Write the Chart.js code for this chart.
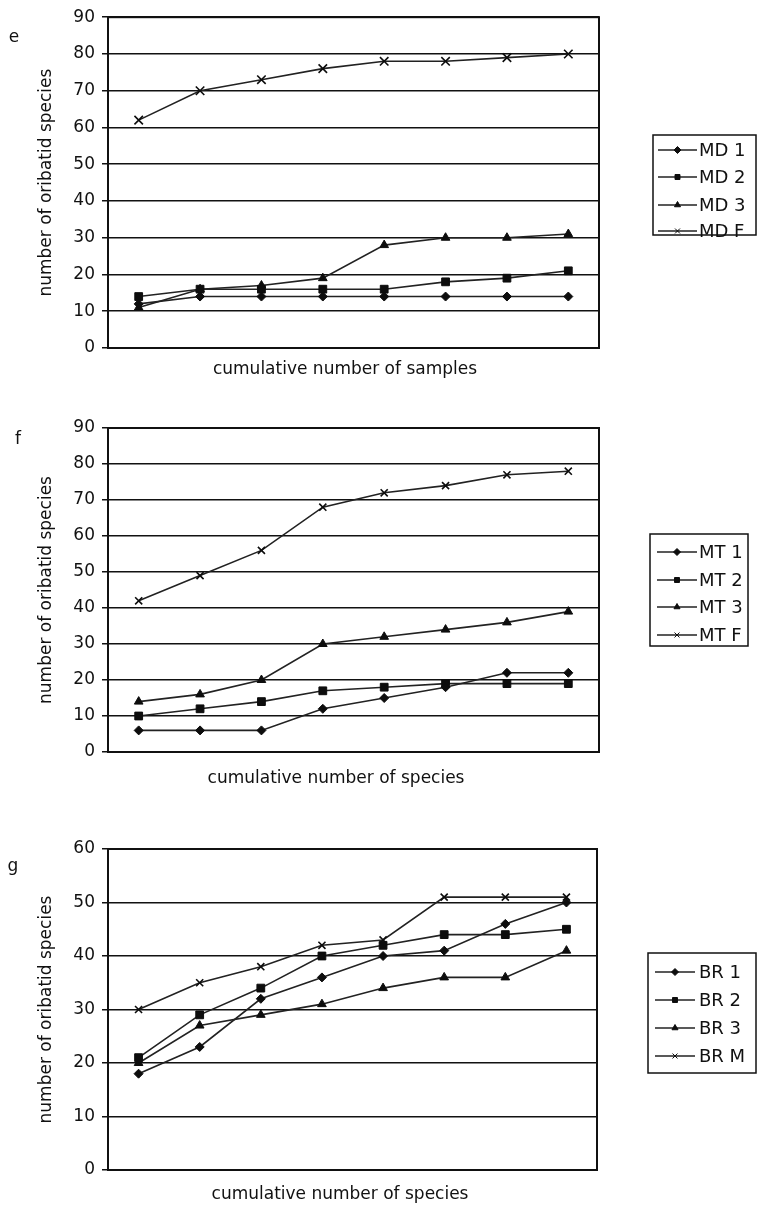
<!DOCTYPE html>
<html>
<head>
<meta charset="utf-8">
<script src="https://cdn.jsdelivr.net/npm/chart.js@4.4.0/dist/chart.umd.min.js"></script>
<style>
  body { margin: 0; background: #fff; }
  #page { position: relative; width: 757px; height: 1210px; }
  canvas { position: absolute; left: 0; }
</style>
</head>
<body>
<div id="page">
  <canvas id="chartE" width="757" height="400" style="top:0"></canvas>
  <canvas id="chartF" width="757" height="400" style="top:400px"></canvas>
  <canvas id="chartG" width="757" height="410" style="top:800px"></canvas>
</div>
<script>
// sampling steps along the x axis (not labelled on the chart)
const samples = ["1", "2", "3", "4", "5", "6", "7", "8"];

// e: MD plots
const md1 = [12, 14, 14, 14, 14, 14, 14, 14];
const md2 = [14, 16, 16, 16, 16, 18, 19, 21];
const md3 = [11, 16, 17, 19, 28, 30, 30, 31];
const mdF = [62, 70, 73, 76, 78, 78, 79, 80];

// f: MT plots
const mt1 = [6, 6, 6, 12, 15, 18, 22, 22];
const mt2 = [10, 12, 14, 17, 18, 19, 19, 19];
const mt3 = [14, 16, 20, 30, 32, 34, 36, 39];
const mtF = [42, 49, 56, 68, 72, 74, 77, 78];

// g: BR plots
const br1 = [18, 23, 32, 36, 40, 41, 46, 50];
const br2 = [21, 29, 34, 40, 42, 44, 44, 45];
const br3 = [20, 27, 29, 31, 34, 36, 36, 41];
const brM = [30, 35, 38, 42, 43, 51, 51, 51];

const FONT = '"DejaVu Sans", "Liberation Sans", sans-serif';
const INK = "#111";

Chart.defaults.font.family = FONT;
Chart.defaults.font.size = 17;
Chart.defaults.color = INK;

function series(label, data, style, radius) {
  return {
    label,
    data,
    borderColor: "#222",
    borderWidth: 1.6,
    pointStyle: style,
    pointRadius: radius,
    pointBackgroundColor: "#0d0d0d",
    pointBorderColor: "#0d0d0d",
    pointBorderWidth: style === "crossRot" ? 1.6 : 1,
    tension: 0,
    fill: false,
  };
}

// frame round the plot area, panel letter, x title and the boxed legend
const panelDecor = {
  id: "panelDecor",
  beforeDatasetsDraw(chart) {
    const { ctx, chartArea: a } = chart;
    ctx.save();
    ctx.strokeStyle = INK;
    ctx.lineWidth = 2;
    ctx.strokeRect(a.left, a.top, a.right - a.left, a.bottom - a.top);
    ctx.restore();
  },
  afterDraw(chart, args, opts) {
    const ctx = chart.ctx;
    ctx.save();
    ctx.fillStyle = INK;
    ctx.font = "17px " + FONT;
    ctx.textAlign = "center";
    ctx.textBaseline = "middle";
    ctx.fillText(opts.letter, opts.letterX, opts.letterY);
    ctx.fillText(opts.xTitle, opts.xTitleX, opts.xTitleY);

    const b = opts.box;
    ctx.fillStyle = "#fff";
    ctx.fillRect(b.x, b.y, b.w, b.h);
    ctx.strokeStyle = INK;
    ctx.lineWidth = 1.5;
    ctx.strokeRect(b.x, b.y, b.w, b.h);

    const mid = (opts.lineX[0] + opts.lineX[1]) / 2;
    chart.data.datasets.forEach((ds, i) => {
      const y = opts.rows[i];
      ctx.strokeStyle = ds.borderColor;
      ctx.lineWidth = ds.borderWidth;
      ctx.beginPath();
      ctx.moveTo(opts.lineX[0], y);
      ctx.lineTo(opts.lineX[1], y);
      ctx.stroke();
      ctx.fillStyle = ds.pointBackgroundColor;
      ctx.strokeStyle = ds.pointBorderColor;
      ctx.lineWidth = 1;
      Chart.helpers.drawPoint(ctx, {
        pointStyle: ds.pointStyle,
        radius: 3.5,
        rotation: 0,
        borderWidth: 1,
      }, mid, y);
      ctx.fillStyle = INK;
      ctx.textAlign = "left";
      ctx.font = "18px " + FONT;
      ctx.fillText(ds.label, opts.textX, y + 1);
    });
    ctx.restore();
  },
};

function drawPanel(id, cfg) {
  const canvas = document.getElementById(id);
  return new Chart(canvas, {
    type: "line",
    data: { labels: samples, datasets: cfg.datasets },
    options: {
      responsive: false,
      animation: false,
      devicePixelRatio: 1,
      layout: {
        padding: { top: cfg.plotTop, right: canvas.width - cfg.plotRight, left: 0, bottom: 0 },
      },
      plugins: {
        legend: { display: false },
        tooltip: { enabled: false },
        panelDecor: cfg.decor,
      },
      scales: {
        x: {
          offset: true,
          grid: { display: false },
          ticks: { display: false },
          border: { display: false },
          afterFit: (s) => { s.height = canvas.height - cfg.plotBottom; },
        },
        y: {
          min: 0,
          max: cfg.yMax,
          ticks: { stepSize: 10, padding: 7, color: INK },
          grid: { color: "#111", lineWidth: 1.5, tickLength: 6 },
          border: { display: false },
          title: {
            display: true,
            text: "number of oribatid species",
            color: INK,
            font: { size: 17 },
            padding: { top: 36, bottom: 0 },
          },
          afterFit: (s) => { s.width = 108; },
        },
      },
    },
    plugins: [panelDecor],
  });
}

drawPanel("chartE", {
  plotTop: 17, plotBottom: 348, plotRight: 599, yMax: 90,
  datasets: [
    series("MD 1", md1, "rectRot", 4.5),
    series("MD 2", md2, "rect", 5.5),
    series("MD 3", md3, "triangle", 5),
    series("MD F", mdF, "crossRot", 6),
  ],
  decor: {
    letter: "e", letterX: 14, letterY: 38,
    xTitle: "cumulative number of samples", xTitleX: 345, xTitleY: 370,
    box: { x: 653, y: 135, w: 103, h: 100 },
    rows: [150, 177, 205, 231],
    lineX: [658, 697], textX: 699,
  },
});

drawPanel("chartF", {
  plotTop: 28, plotBottom: 352, plotRight: 599, yMax: 90,
  datasets: [
    series("MT 1", mt1, "rectRot", 4.5),
    series("MT 2", mt2, "rect", 5.5),
    series("MT 3", mt3, "triangle", 5),
    series("MT F", mtF, "crossRot", 5),
  ],
  decor: {
    letter: "f", letterX: 18, letterY: 40,
    xTitle: "cumulative number of species", xTitleX: 336, xTitleY: 379,
    box: { x: 650, y: 134, w: 98, h: 112 },
    rows: [152, 180, 207, 235],
    lineX: [657, 697], textX: 699,
  },
});

drawPanel("chartG", {
  plotTop: 49, plotBottom: 370, plotRight: 597, yMax: 60,
  datasets: [
    series("BR 1", br1, "rectRot", 4.5),
    series("BR 2", br2, "rect", 5.5),
    series("BR 3", br3, "triangle", 5),
    series("BR M", brM, "crossRot", 5),
  ],
  decor: {
    letter: "g", letterX: 13, letterY: 67,
    xTitle: "cumulative number of species", xTitleX: 340, xTitleY: 395,
    box: { x: 648, y: 153, w: 108, h: 120 },
    rows: [172, 200, 228, 256],
    lineX: [655, 695], textX: 699,
  },
});
</script>
</body>
</html>
